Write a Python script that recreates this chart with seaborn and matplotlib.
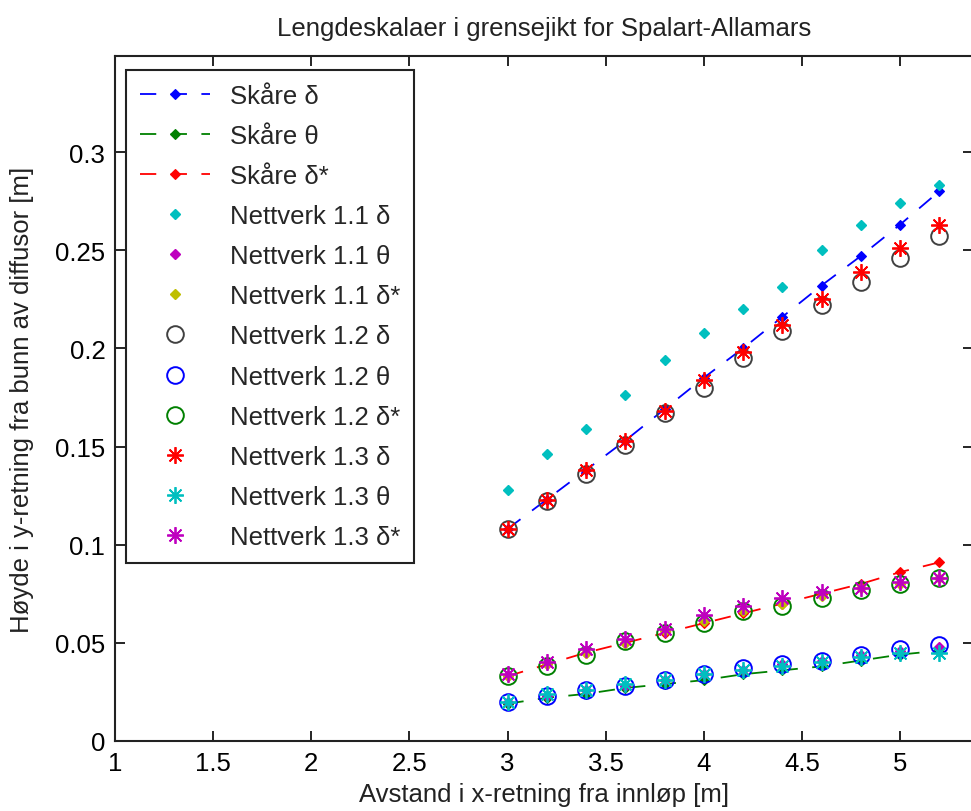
import matplotlib
matplotlib.use("Agg")
import matplotlib.pyplot as plt
import seaborn as sns
import pandas as pd

# ---- data ----
x_pos = [3.0, 3.2, 3.4, 3.6, 3.8, 4.0, 4.2, 4.4, 4.6, 4.8, 5.0, 5.2]

skare_delta = [0.108, 0.123, 0.138, 0.153, 0.169, 0.185, 0.200, 0.216, 0.232, 0.247, 0.263, 0.280]
skare_theta = [0.019, 0.022, 0.024, 0.027, 0.029, 0.031, 0.034, 0.036, 0.038, 0.041, 0.044, 0.046]
skare_dstar = [0.033, 0.039, 0.045, 0.050, 0.055, 0.060, 0.065, 0.070, 0.075, 0.080, 0.086, 0.091]

net11_delta = [0.128, 0.146, 0.159, 0.176, 0.194, 0.208, 0.220, 0.231, 0.250, 0.263, 0.274, 0.283]
net11_theta = [0.020, 0.023, 0.026, 0.028, 0.031, 0.034, 0.036, 0.039, 0.041, 0.044, 0.046, 0.048]
net11_dstar = [0.033, 0.039, 0.045, 0.050, 0.056, 0.061, 0.066, 0.070, 0.074, 0.078, 0.080, 0.083]

net12_delta = [0.108, 0.122, 0.136, 0.151, 0.167, 0.180, 0.195, 0.209, 0.222, 0.234, 0.246, 0.257]
net12_theta = [0.020, 0.023, 0.026, 0.028, 0.031, 0.034, 0.037, 0.039, 0.041, 0.044, 0.047, 0.049]
net12_dstar = [0.033, 0.038, 0.044, 0.051, 0.055, 0.060, 0.066, 0.069, 0.073, 0.077, 0.080, 0.083]

net13_delta = [0.108, 0.123, 0.138, 0.153, 0.168, 0.184, 0.198, 0.212, 0.225, 0.239, 0.251, 0.263]
net13_theta = [0.020, 0.024, 0.026, 0.029, 0.031, 0.034, 0.036, 0.038, 0.040, 0.043, 0.045, 0.045]
net13_dstar = [0.034, 0.040, 0.047, 0.052, 0.057, 0.064, 0.069, 0.073, 0.076, 0.078, 0.081, 0.083]

x_ticks = [1, 1.5, 2, 2.5, 3, 3.5, 4, 4.5, 5]
x_ticklabels = ["1", "1.5", "2", "2.5", "3", "3.5", "4", "4.5", "5"]
y_ticks = [0, 0.05, 0.1, 0.15, 0.2, 0.25, 0.3]
y_ticklabels = ["0", "0.05", "0.1", "0.15", "0.2", "0.25", "0.3"]

title = "Lengdeskalaer i grensejikt for Spalart-Allamars"
xlabel = "Avstand i x-retning fra innløp [m]"
ylabel = "Høyde i y-retning fra bunn av diffusor [m]"

# ---- style ----
sns.set_theme(style="ticks")
plt.rcParams["font.family"] = ["Liberation Sans", "DejaVu Sans"]
FS = 18.5

fig = plt.figure(figsize=(9.71, 8.12), dpi=100)
ax = fig.add_axes([115 / 971, 70 / 812, 858 / 971, 685 / 812])

B = (0, 0, 1)
G = (0, 0.5, 0)
R = (1, 0, 0)
C = (0, 0.75, 0.75)
M = (0.75, 0, 0.75)
Y = (0.75, 0.75, 0)
K = (0.25, 0.25, 0.25)

dash = (0, (9, 8))

def line(y, color, label):
    sns.lineplot(x=x_pos, y=y, ax=ax, sort=False, estimator=None, color=color,
                 linestyle=dash, linewidth=1.3, marker="D", markersize=5,
                 markerfacecolor=color, markeredgecolor=color, markeredgewidth=0.8,
                 label=label)

def dots(y, color, label, marker, ms, filled=True, mew=1.0):
    sns.lineplot(x=x_pos, y=y, ax=ax, sort=False, estimator=None, color=color,
                 linestyle="none", marker=marker, markersize=ms,
                 markerfacecolor=color if filled else "none",
                 markeredgecolor=color, markeredgewidth=mew, label=label)

line(skare_delta, B, "Skåre δ")
line(skare_theta, G, "Skåre θ")
line(skare_dstar, R, "Skåre δ*")
dots(net11_delta, C, "Nettverk 1.1 δ", "D", 5.5)
dots(net11_theta, M, "Nettverk 1.1 θ", "D", 5.5)
dots(net11_dstar, Y, "Nettverk 1.1 δ*", "D", 5.5)
dots(net12_delta, K, "Nettverk 1.2 δ", "o", 12, filled=False, mew=1.4)
dots(net12_theta, B, "Nettverk 1.2 θ", "o", 12, filled=False, mew=1.4)
dots(net12_dstar, G, "Nettverk 1.2 δ*", "o", 12, filled=False, mew=1.4)
star = (8, 2, 0)
dots(net13_delta, R, "Nettverk 1.3 δ", star, 12, mew=1.3)
dots(net13_theta, C, "Nettverk 1.3 θ", star, 12, mew=1.3)
dots(net13_dstar, M, "Nettverk 1.3 δ*", star, 12, mew=1.3)

ax.set_xlim(1, 1 + 858 / 196.25)
ax.set_ylim(0, 685 / 1963.3)
ax.set_xticks(x_ticks)
ax.set_xticklabels(x_ticklabels)
ax.set_yticks(y_ticks)
ax.set_yticklabels(y_ticklabels)
ax.tick_params(direction="in", length=7, width=1.2, top=True, right=True,
               labelsize=FS, colors="black", pad=7)
for s in ax.spines.values():
    s.set_visible(True)
    s.set_linewidth(1.5)
    s.set_color("#222222")

ax.set_title(title, fontsize=FS, pad=15, color="#222222")
ax.set_xlabel(xlabel, fontsize=FS, labelpad=5, color="#222222")
ax.set_ylabel(ylabel, fontsize=FS, labelpad=15, color="#222222")

leg = ax.legend(loc="upper left", bbox_to_anchor=(11 / 858, 1 - 14 / 685),
                borderaxespad=0, fontsize=FS, frameon=True, fancybox=False,
                framealpha=1, edgecolor="#222222", handlelength=2.7,
                handletextpad=0.78, labelspacing=0.625, borderpad=0.55,
                numpoints=1)
leg.get_frame().set_linewidth(1.5)

fig.savefig("out.png", dpi=100, facecolor="white")
